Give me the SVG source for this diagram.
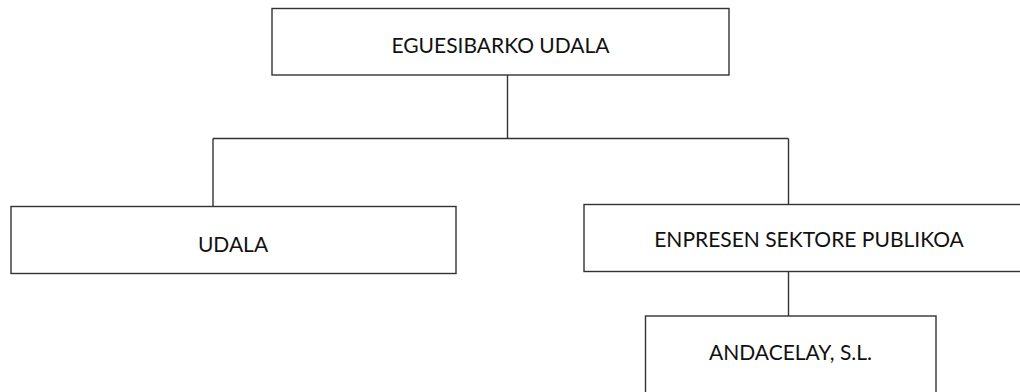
<svg xmlns="http://www.w3.org/2000/svg" width="1020" height="392" viewBox="0 0 1020 392">
<style>
.box{fill:#fff;stroke:#333;stroke-width:1.4}
.lbl{font-family:Lato,"Open Sans",sans-serif;font-size:21px;fill:#111;text-anchor:middle}
.con{fill:none;stroke:#333;stroke-width:1.4}
</style>
<rect width="1020" height="392" fill="#fff"/>
<g id="connectors">
<line class="con" x1="507.5" y1="75" x2="507.5" y2="138.5"/>
<line class="con" x1="213" y1="138.5" x2="788.5" y2="138.5"/>
<line class="con" x1="213" y1="138.5" x2="213" y2="206.5"/>
<line class="con" x1="788.5" y1="138.5" x2="788.5" y2="204.5"/>
<line class="con" x1="788.5" y1="271.5" x2="788.5" y2="316"/>
</g>
<g id="egesibarko">
<rect class="box" x="272" y="8.5" width="457" height="66.5"/>
<text class="lbl" x="500.5" y="53">EGUESIBARKO UDALA</text>
</g>
<g id="udala">
<rect class="box" x="11" y="206.5" width="445" height="67"/>
<text class="lbl" x="233" y="252">UDALA</text>
</g>
<g id="enpresen">
<rect class="box" x="584" y="204.5" width="450" height="67"/>
<text class="lbl" x="809" y="246.5">ENPRESEN SEKTORE PUBLIKOA</text>
</g>
<g id="andacelay">
<rect class="box" x="645.5" y="316" width="290.5" height="90"/>
<text class="lbl" x="790.5" y="360">ANDACELAY, S.L.</text>
</g>
</svg>
